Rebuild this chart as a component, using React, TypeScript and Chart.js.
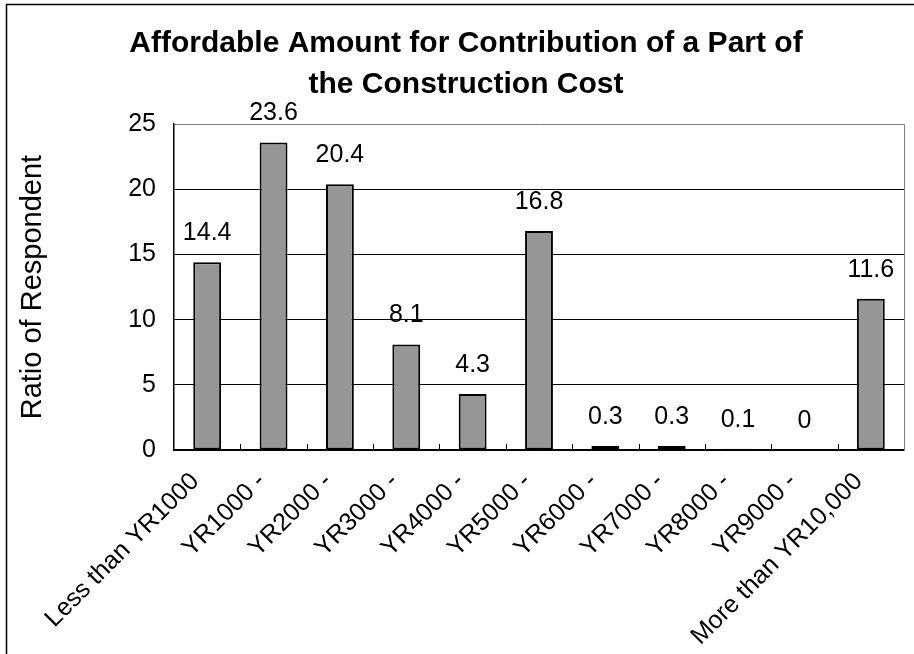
import React, { useEffect, useRef } from "react";
import { Chart, registerables } from "chart.js";

Chart.register(...registerables);

const FONT = '"Liberation Sans", Arial, sans-serif';

const TITLE_LINES = ["Affordable Amount for Contribution of a Part of", "the Construction Cost"];
const Y_TITLE = "Ratio of Respondent";
const CATEGORIES = [
  "Less than YR1000",
  "YR1000 -",
  "YR2000 -",
  "YR3000 -",
  "YR4000 -",
  "YR5000 -",
  "YR6000 -",
  "YR7000 -",
  "YR8000 -",
  "YR9000 -",
  "More than YR10,000",
];
const VALUES = [14.4, 23.6, 20.4, 8.1, 4.3, 16.8, 0.3, 0.3, 0.1, 0, 11.6];
const Y_MIN = 0;
const Y_MAX = 25;
const Y_STEP = 5;

const decorPlugin = {
  id: "decor",
  beforeDraw(chart: any) {
    const { ctx, width, height } = chart;
    ctx.save();
    ctx.fillStyle = "#ffffff";
    ctx.fillRect(0, 0, width, height);
    ctx.restore();
  },
  afterDraw(chart: any) {
    const { ctx, chartArea } = chart;
    const xs = chart.scales.x;
    ctx.save();
    // outer frame
    ctx.strokeStyle = "#000";
    ctx.lineWidth = 1.5;
    ctx.strokeRect(6.5, 4.5, 1000, 1000);
    // right border of plot area
    ctx.strokeStyle = "#808080";
    ctx.lineWidth = 1;
    ctx.beginPath();
    ctx.moveTo(Math.round(chartArea.right) + 0.5, chartArea.top);
    ctx.lineTo(Math.round(chartArea.right) + 0.5, chartArea.bottom);
    ctx.stroke();
    // inward tick marks between categories
    ctx.strokeStyle = "#000";
    ctx.beginPath();
    for (let i = 1; i < CATEGORIES.length; i++) {
      const x = Math.round((xs.getPixelForValue(i - 1) + xs.getPixelForValue(i)) / 2) + 0.5;
      ctx.moveTo(x, chartArea.bottom);
      ctx.lineTo(x, chartArea.bottom - 6);
    }
    ctx.stroke();
    ctx.restore();
  },
  afterDatasetsDraw(chart: any) {
    const { ctx } = chart;
    const meta = chart.getDatasetMeta(0);
    ctx.save();
    ctx.font = `25px ${FONT}`;
    ctx.fillStyle = "#000";
    ctx.textAlign = "center";
    ctx.textBaseline = "alphabetic";
    meta.data.forEach((el: any, i: number) => {
      ctx.fillText(String(VALUES[i]), el.x, el.y - 22);
    });
    ctx.restore();
  },
};

export default function App() {
  const ref = useRef<HTMLCanvasElement | null>(null);

  useEffect(() => {
    if (!ref.current) return;
    const chart = new Chart(ref.current, {
      type: "bar",
      data: {
        labels: CATEGORIES,
        datasets: [
          {
            data: VALUES,
            backgroundColor: "#969696",
            borderColor: "#000000",
            borderWidth: 2,
            borderSkipped: false,
            barPercentage: 0.42,
            categoryPercentage: 1,
          },
        ],
      },
      options: {
        responsive: false,
        animation: false,
        layout: { padding: { left: 18, right: 0, top: 0, bottom: 0 } },
        plugins: {
          legend: { display: false },
          tooltip: { enabled: false },
          title: {
            display: true,
            text: TITLE_LINES,
            color: "#000",
            font: { family: FONT, size: 30, weight: "bold", lineHeight: 1.37 },
            padding: { top: 23, bottom: 19 },
          },
        },
        scales: {
          x: {
            grid: { display: false },
            border: { display: true, color: "#000", width: 1.5 },
            ticks: {
              color: "#000",
              font: { family: FONT, size: 25 },
              minRotation: 45,
              maxRotation: 45,
              autoSkip: false,
              padding: 9,
              labelOffset: -12,
            },
            afterFit: (s: any) => {
              s.height = 204;
            },
          },
          y: {
            min: Y_MIN,
            max: Y_MAX,
            ticks: {
              stepSize: Y_STEP,
              color: "#000",
              font: { family: FONT, size: 25 },
              padding: 18,
            },
            grid: {
              drawTicks: false,
              color: (c: any) => (c.tick && c.tick.value === Y_MAX ? "#808080" : "#000"),
              lineWidth: 1,
            },
            border: { display: true, color: "#000", width: 1.5 },
            title: {
              display: true,
              text: Y_TITLE,
              color: "#000",
              font: { family: FONT, size: 29, lineHeight: 1 },
              padding: 0,
            },
            afterFit: (s: any) => {
              s.width = 156;
            },
          },
          y2: {
            position: "right",
            display: true,
            grid: { display: false },
            border: { display: false },
            ticks: { display: false },
            afterFit: (s: any) => {
              s.width = 10;
            },
          },
        },
      },
      plugins: [decorPlugin],
    } as any);
    return () => chart.destroy();
  }, []);

  return (
    <div style={{ position: "absolute", left: 0, top: 0, width: 914, height: 654 }}>
      <canvas ref={ref} width={914} height={654} style={{ display: "block" }} />
    </div>
  );
}
